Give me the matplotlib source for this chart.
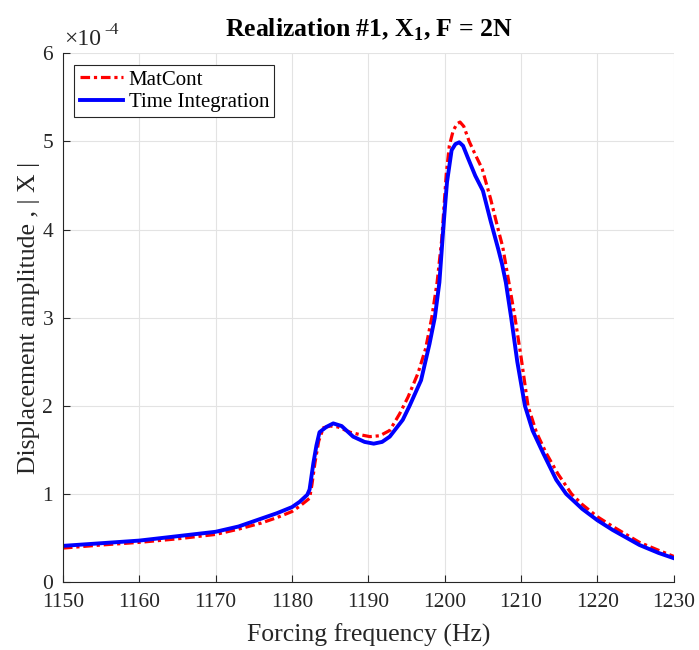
import matplotlib
matplotlib.use("Agg")
import matplotlib.pyplot as plt
from matplotlib.transforms import offset_copy

plt.rcParams['font.family'] = ['Liberation Serif', 'DejaVu Serif']
plt.rcParams['mathtext.fontset'] = 'custom'
plt.rcParams['mathtext.rm'] = 'Liberation Serif'
plt.rcParams['mathtext.bf'] = 'Liberation Serif:bold'

# MatCont continuation (Hz, |X| in 1e-4)
freq_mc = [1150, 1155, 1160, 1165, 1170, 1173, 1176, 1178, 1180, 1181, 1182.3, 1182.6,
           1183.0, 1183.5, 1184.1, 1185, 1186, 1187.6, 1189, 1190.2, 1191.5, 1192.8,
           1194.1, 1195.2, 1196.5, 1197.5, 1198.3, 1199, 1199.6, 1200.2, 1200.6, 1201.1,
           1201.6, 1202.0, 1202.5, 1203.2, 1204, 1204.9, 1206, 1207, 1207.6, 1208.3,
           1209.2, 1210, 1210.9, 1212, 1213.3, 1214.8, 1216.6, 1218, 1220, 1222, 1225.5,
           1228, 1230]
amp_mc = [0.385, 0.42, 0.45, 0.49, 0.54, 0.60, 0.67, 0.73, 0.80, 0.86, 0.95, 1.10,
          1.35, 1.60, 1.75, 1.77, 1.76, 1.70, 1.67, 1.65, 1.66, 1.72,
          1.91, 2.10, 2.37, 2.65, 3.0, 3.4, 3.88, 4.63, 4.95, 5.12,
          5.20, 5.22, 5.17, 5.0, 4.85, 4.69, 4.35, 4.0, 3.80, 3.45,
          3.0, 2.55, 2.0, 1.70, 1.46, 1.23, 1.0, 0.88, 0.74, 0.63, 0.45,
          0.36, 0.29]

# time integration (Hz, |X| in 1e-4)
freq_ti = [1150, 1155, 1160, 1165, 1170, 1173, 1176, 1178, 1180, 1181, 1182, 1182.3,
           1182.8, 1183.2, 1183.6, 1184.5, 1185.4, 1186.5, 1188, 1189.5, 1190.7, 1191.8,
           1192.8, 1194.5, 1195.4, 1196.9, 1198, 1198.7, 1199.3, 1199.8, 1200.1, 1200.3,
           1200.9, 1201.4, 1201.9, 1202.4, 1203, 1204, 1205, 1206, 1207, 1207.5, 1208.0,
           1208.7, 1209.5, 1210.5, 1211.5, 1212.9, 1214.6, 1215.9, 1218, 1220, 1222,
           1225.5, 1228, 1230]
amp_ti = [0.41, 0.44, 0.47, 0.52, 0.57, 0.63, 0.72, 0.78, 0.85, 0.91, 0.99, 1.05,
          1.35, 1.55, 1.70, 1.76, 1.80, 1.77, 1.65, 1.59, 1.57, 1.59,
          1.65, 1.84, 2.0, 2.29, 2.7, 3.0, 3.4, 4.0, 4.33, 4.54,
          4.90, 4.97, 4.99, 4.95, 4.82, 4.61, 4.44, 4.10, 3.78, 3.61, 3.40,
          3.0, 2.5, 2.0, 1.72, 1.46, 1.16, 1.0, 0.83, 0.70, 0.59,
          0.42, 0.33, 0.27]

fig = plt.figure(figsize=(6.99, 6.5), dpi=100)
ax = fig.add_axes([0.090, 0.1046, 0.874, 0.8134])

ax.plot(freq_mc, amp_mc, color='red', linestyle=(0, (3.0, 1.2, 1.0, 1.2)),
        linewidth=2.3, label='MatCont')
ax.plot(freq_ti, amp_ti, color='blue', linestyle='-', linewidth=2.8, label='Time Integration')

ax.set_xlim(1150, 1230)
ax.set_ylim(0, 6)
ax.set_xticks(range(1150, 1231, 10))
ax.set_yticks(range(7))

# MATLAB style exponent label, x10^-4
ax.text(0.002, 1.015, '\u00d710', transform=ax.transAxes,
        fontsize=17, color='#262626', ha='left', va='baseline')
sup = offset_copy(ax.transAxes, fig=fig, x=29.5, y=8, units='points')
ax.text(0.0, 1.015, '-4', transform=sup, fontsize=12.5, color='#262626',
        ha='left', va='baseline')

ax.grid(True, color='#e3e3e3', linewidth=0.8)
ax.set_axisbelow(True)
for s in ['top', 'right']:
    ax.spines[s].set_visible(False)
for s in ['left', 'bottom']:
    ax.spines[s].set_color('#262626')
ax.tick_params(direction='in', length=5, labelsize=15.5, colors='#262626')
ax.tick_params(axis='x', pad=8)
ax.tick_params(axis='y', pad=7)

ax.set_xlabel('Forcing frequency (Hz)', fontsize=18.5, color='#262626', labelpad=8)
ax.set_ylabel('Displacement amplitude , | X |', fontsize=18.5, color='#262626', labelpad=2)
ax.set_title(r'Realization #1, X$_\mathbf{1}$, F = 2N', fontsize=18.5, fontweight='bold', pad=12)

leg = ax.legend(loc='upper left', fontsize=15, fancybox=False, framealpha=1,
                edgecolor='#262626', borderpad=0.25, handlelength=2.1, handletextpad=0.25,
                labelspacing=0.15, borderaxespad=0.55)
leg.get_frame().set_linewidth(0.8)

fig.savefig('out.png', dpi=100)
